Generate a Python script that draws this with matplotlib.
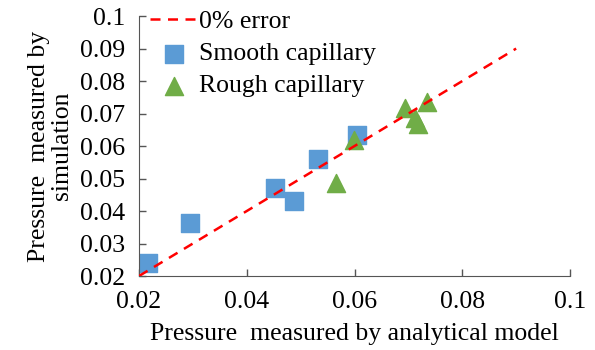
import matplotlib
matplotlib.use("Agg")
import matplotlib.pyplot as plt

plt.rcParams['font.family'] = ['Liberation Serif', 'DejaVu Serif']

smooth_x = [0.0217, 0.0295, 0.0452, 0.0488, 0.0532, 0.0604]
smooth_y = [0.0239, 0.0362, 0.0470, 0.0431, 0.0561, 0.0634]
rough_x = [0.0566, 0.0599, 0.0693, 0.0713, 0.0718, 0.0735]
rough_y = [0.0485, 0.0618, 0.0718, 0.0685, 0.0668, 0.0736]
line_x = [0.02, 0.09]
line_y = [0.02, 0.09]
xticks = [0.02, 0.04, 0.06, 0.08, 0.1]
yticks = [0.02, 0.03, 0.04, 0.05, 0.06, 0.07, 0.08, 0.09, 0.1]

FS = 18.5
fig = plt.figure(figsize=(5.95, 3.5), dpi=100)
ax = fig.add_axes([0.2336, 0.2114, 0.958 - 0.2336, 0.954 - 0.2114])
ax.plot(line_x, line_y, linestyle=(0, (4, 3)), color='#FF0000', lw=1.8, label='0% error', zorder=3)
ax.scatter(smooth_x, smooth_y, marker='s', s=170, color='#5B9BD5', label='Smooth capillary', zorder=2)
ax.scatter(rough_x, rough_y, marker='^', s=170, color='#70AD47', label='Rough capillary', zorder=2)
ax.set_xlim(0.02, 0.1)
ax.set_ylim(0.02, 0.1)
ax.set_xticks(xticks)
ax.set_xticklabels(['0.02', '0.04', '0.06', '0.08', '0.1'])
ax.set_yticks(yticks)
ax.set_yticklabels(['0.02', '0.03', '0.04', '0.05', '0.06', '0.07', '0.08', '0.09', '0.1'])
ax.tick_params(direction='in', labelsize=FS, length=5, width=1, color='#555555')
ax.tick_params(axis='y', pad=10)
ax.tick_params(axis='x', pad=11)
for s in ['top', 'right']:
    ax.spines[s].set_visible(False)
for s in ['left', 'bottom']:
    ax.spines[s].set_color('#555555')
ax.set_xlabel('Pressure  measured by analytical model', fontsize=FS, labelpad=7)
ax.set_ylabel('Pressure  measured by\nsimulation', fontsize=FS, labelpad=5, linespacing=1.05)
ax.legend(loc='upper left', frameon=False, fontsize=FS, handlelength=1.85,
          borderaxespad=0.0, bbox_to_anchor=(0.025, 1.022), labelspacing=0.35, handletextpad=0.08,
          borderpad=0.0)
fig.savefig('out.png', dpi=100)
